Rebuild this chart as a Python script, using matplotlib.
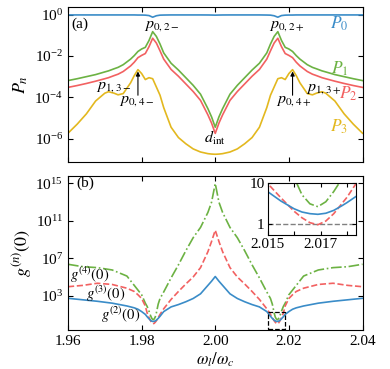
import numpy as np
import matplotlib
matplotlib.use("Agg")
import matplotlib.pyplot as plt
from matplotlib.ticker import NullLocator, FixedLocator, FixedFormatter
from matplotlib.patches import Rectangle

# ---------------- data (log10 values) ----------------
x_top = [1.960, 1.9625, 1.965, 1.9675, 1.970, 1.971, 1.9725, 1.9736, 1.975, 1.977,
         1.978, 1.979, 1.980, 1.981, 1.982, 1.983, 1.984, 1.985, 1.986, 1.988,
         1.990, 1.992, 1.994, 1.996, 1.998, 1.999, 2.000,
         2.001, 2.002, 2.004, 2.006, 2.008, 2.010, 2.012, 2.014, 2.015, 2.016,
         2.017, 2.018, 2.019, 2.020, 2.021, 2.022, 2.023, 2.025, 2.0264, 2.0275,
         2.029, 2.030, 2.0325, 2.035, 2.0375, 2.040]

log_P0 = [-0.01, -0.01, -0.01, -0.01, -0.01, -0.01, -0.01, -0.01, -0.01, -0.01,
          -0.01, -0.015, -0.015, -0.02, -0.04, -0.12, -0.05, -0.02, -0.015, -0.01,
          -0.01, -0.01, -0.01, -0.01, -0.012, -0.015, -0.02,
          -0.015, -0.012, -0.01, -0.01, -0.01, -0.01, -0.01, -0.015, -0.02, -0.05,
          -0.12, -0.04, -0.02, -0.015, -0.015, -0.01, -0.01, -0.01, -0.01, -0.01,
          -0.01, -0.01, -0.01, -0.01, -0.01, -0.01]

log_P1 = [-3.19, -3.10, -3.00, -2.90, -2.77, -2.72, -2.62, -2.55, -2.42, -2.15,
          -1.98, -1.78, -1.66, -1.58, -1.25, -0.82, -1.05, -1.42, -1.85, -2.35,
          -2.68, -3.05, -3.42, -3.85, -4.55, -4.95, -5.45,
          -4.95, -4.55, -3.85, -3.42, -3.05, -2.68, -2.35, -1.85, -1.42, -1.05,
          -0.82, -1.25, -1.58, -1.66, -1.78, -1.98, -2.15, -2.42, -2.55, -2.62,
          -2.72, -2.77, -2.90, -3.00, -3.10, -3.19]

log_P2 = [-3.52, -3.43, -3.33, -3.22, -3.10, -3.05, -2.95, -2.88, -2.75, -2.48,
          -2.30, -2.08, -1.97, -1.88, -1.55, -1.14, -1.37, -1.75, -2.15, -2.65,
          -2.98, -3.35, -3.72, -4.15, -4.85, -5.25, -5.75,
          -5.25, -4.85, -4.15, -3.72, -3.35, -2.98, -2.65, -2.15, -1.75, -1.37,
          -1.14, -1.55, -1.88, -1.97, -2.08, -2.30, -2.48, -2.75, -2.88, -2.95,
          -3.05, -3.10, -3.22, -3.33, -3.43, -3.52]

log_P3 = [-5.74, -5.30, -4.80, -4.18, -3.80, -3.73, -3.80, -3.88, -3.82, -3.30,
          -2.95, -2.66, -2.85, -3.14, -3.05, -3.10, -3.50, -3.90, -4.50, -5.45,
          -5.95, -6.25, -6.50, -6.65, -6.73, -6.75, -6.76,
          -6.75, -6.73, -6.65, -6.50, -6.25, -5.95, -5.45, -4.50, -3.90, -3.50,
          -3.10, -3.05, -3.14, -2.85, -2.66, -2.95, -3.30, -3.82, -3.88, -3.80,
          -3.73, -3.80, -4.18, -4.80, -5.30, -5.74]

x_bot = [1.960, 1.964, 1.968, 1.972, 1.976, 1.978, 1.979, 1.980, 1.981, 1.9815,
         1.982, 1.9822, 1.9825, 1.9828, 1.9831, 1.9834, 1.9837, 1.984, 1.9845, 1.985,
         1.986, 1.988, 1.990, 1.992, 1.994, 1.996, 1.998, 1.999, 2.000,
         2.001, 2.002, 2.004, 2.006, 2.008, 2.010, 2.012, 2.014, 2.015, 2.0155,
         2.016, 2.0163, 2.0166, 2.0169, 2.0172, 2.0175, 2.0178, 2.018, 2.0185, 2.019,
         2.020, 2.021, 2.022, 2.024, 2.028, 2.032, 2.036, 2.040]

log_g2 = [2.72, 2.56, 2.40, 2.20, 1.90, 1.70, 1.55, 1.30, 1.00, 0.75,
          0.53, 0.45, 0.34, 0.27, 0.244, 0.26, 0.30, 0.38, 0.57, 0.80,
          1.30, 1.80, 2.05, 2.35, 2.70, 3.20, 4.10, 4.55, 5.05,
          4.55, 4.10, 3.20, 2.70, 2.35, 2.05, 1.80, 1.30, 0.80, 0.57,
          0.38, 0.30, 0.26, 0.244, 0.27, 0.34, 0.45, 0.53, 0.75, 1.00,
          1.30, 1.55, 1.70, 1.90, 2.20, 2.40, 2.56, 2.72]

log_g3 = [3.96, 4.10, 4.33, 4.20, 3.80, 3.45, 3.10, 2.70, 1.90, 1.15,
          0.66, 0.50, 0.26, 0.08, -0.01, 0.04, 0.16, 0.32, 0.65, 1.00,
          1.60, 2.60, 3.45, 4.25, 5.00, 6.00, 7.70, 8.80, 10.00,
          8.80, 7.70, 6.00, 5.00, 4.25, 3.45, 2.60, 1.60, 1.00, 0.65,
          0.32, 0.16, 0.04, -0.01, 0.08, 0.26, 0.50, 0.66, 1.15, 1.90,
          2.70, 3.10, 3.45, 3.80, 4.20, 4.33, 4.10, 3.96]

log_g4 = [6.36, 6.10, 6.00, 5.75, 5.10, 4.10, 3.60, 3.10, 2.20, 1.85,
          1.35, 1.10, 0.80, 0.55, 0.43, 0.50, 0.72, 1.15, 2.10, 2.70,
          3.40, 4.90, 6.30, 7.80, 9.20, 10.30, 11.90, 13.00, 15.00,
          13.00, 11.90, 10.30, 9.20, 7.80, 6.30, 4.90, 3.40, 2.70, 2.10,
          1.15, 0.72, 0.50, 0.43, 0.55, 0.80, 1.10, 1.35, 1.85, 2.20,
          3.10, 3.60, 4.10, 5.10, 5.75, 6.00, 6.10, 6.36]

bottom_xticks = [1.96, 1.98, 2.00, 2.02, 2.04]
bottom_xticklabels = ["1.96", "1.98", "2.00", "2.02", "2.04"]
inset_xticks = [2.015, 2.016, 2.017, 2.018]
inset_xticklabels = ["2.015", "", "2.017", ""]

# ---------------- style ----------------
plt.rcParams.update({
    "font.family": "serif",
    "font.serif": ["Liberation Serif"],
    "mathtext.fontset": "stix",
    "font.size": 11,
    "xtick.direction": "in",
    "ytick.direction": "in",
    "xtick.top": True,
    "ytick.right": True,
    "xtick.major.size": 3.5,
    "ytick.major.size": 3.5,
    "axes.linewidth": 0.8,
})

c_blue = "#3a8cc8"
c_green = "#6cb243"
c_red = "#f26161"
c_yellow = "#e3b81f"

W, H = 390, 369
fig = plt.figure(figsize=(W / 100, H / 100), dpi=100)
ax1 = fig.add_axes([68 / W, 1 - 161.7 / H, 294.5 / W, 154.4 / H])
ax2 = fig.add_axes([68 / W, 1 - 330 / H, 294.5 / W, 154 / H])
axin = fig.add_axes([267.5 / W, 1 - 235.3 / H, 88.8 / W, 52 / H])

xt = np.array(x_top)
lw = 1.2
ax1.plot(xt, 10 ** np.array(log_P0), color=c_blue, lw=lw)
ax1.plot(xt, 10 ** np.array(log_P1), color=c_green, lw=lw)
ax1.plot(xt, 10 ** np.array(log_P2), color=c_red, lw=lw)
ax1.plot(xt, 10 ** np.array(log_P3), color=c_yellow, lw=lw)
ax1.set_yscale("log")
ax1.set_xlim(1.96, 2.04)
ax1.set_ylim(10 ** -7.12, 10 ** 0.36)
ax1.set_yticks([1, 1e-2, 1e-4, 1e-6])
ax1.yaxis.set_minor_locator(NullLocator())
ax1.set_xticks(bottom_xticks)
ax1.tick_params(labelbottom=False)
ax1.set_ylabel("$P_n$", labelpad=3, fontsize=13)

fs_p = 11.5
fs_P = 12.5
ax1.text(0.012, 0.89, "(a)", transform=ax1.transAxes, va="center", ha="left")
ax1.text(1.9855, 10 ** -0.5, r"$p_{0,2-}$", ha="center", va="center", fontsize=fs_p)
ax1.text(2.0195, 10 ** -0.5, r"$p_{0,2+}$", ha="center", va="center", fontsize=fs_p)
ax1.text(2.0337, 10 ** -0.42, r"$P_0$", color=c_blue, ha="center", va="center", fontsize=fs_P)
ax1.text(2.0337, 10 ** -2.6, r"$P_1$", color=c_green, ha="center", va="center", fontsize=fs_P)
ax1.text(2.0362, 10 ** -3.84, r"$P_2$", color=c_red, ha="center", va="center", fontsize=fs_P)
ax1.text(2.0337, 10 ** -5.42, r"$P_3$", color=c_yellow, ha="center", va="center", fontsize=fs_P)
ax1.text(1.9725, 10 ** -3.45, r"$p_{1,3-}$", ha="center", va="center", fontsize=fs_p)
ax1.text(2.0295, 10 ** -3.55, r"$p_{1,3+}$", ha="center", va="center", fontsize=fs_p)
ax1.text(1.9787, 10 ** -4.15, r"$p_{0,4-}$", ha="center", va="center", fontsize=fs_p)
ax1.text(2.0212, 10 ** -4.15, r"$p_{0,4+}$", ha="center", va="center", fontsize=fs_p)
ax1.text(2.0, 10 ** -5.95, r"$d_{\mathrm{int}}$", ha="center", va="center", fontsize=fs_p)
arrow = dict(arrowstyle="-|>", color="k", lw=0.8, mutation_scale=6,
             shrinkA=0, shrinkB=0)
ax1.annotate("", xy=(1.979, 10 ** -2.75), xytext=(1.979, 10 ** -3.9), arrowprops=arrow)
ax1.annotate("", xy=(2.021, 10 ** -2.75), xytext=(2.021, 10 ** -3.9), arrowprops=arrow)

xb = np.array(x_bot)
g2 = 10 ** np.array(log_g2)
g3 = 10 ** np.array(log_g3)
g4 = 10 ** np.array(log_g4)
for ax in (ax2, axin):
    ax.plot(xb, g4, color=c_green, lw=lw, ls="-.")
    ax.plot(xb, g3, color=c_red, lw=lw, ls="--")
    ax.plot(xb, g2, color=c_blue, lw=lw)
ax2.set_yscale("log")
ax2.set_xlim(1.96, 2.04)
ax2.set_ylim(10 ** -0.67, 10 ** 15.8)
ax2.set_yticks([1e3, 1e7, 1e11, 1e15])
ax2.yaxis.set_minor_locator(NullLocator())
ax2.set_xticks(bottom_xticks)
ax2.set_xticklabels(bottom_xticklabels)
ax2.set_ylabel("$g^{(n)}(0)$", labelpad=1, fontsize=13)
ax2.set_xlabel(r"$\omega_l/\omega_c$", labelpad=2, fontsize=12)
ax2.text(0.03, 0.955, "(b)", transform=ax2.transAxes, va="center", ha="left")
fs_g = 10.5
ax2.text(1.9605, 10 ** 5.2, r"$g^{(4)}(0)$", ha="left", va="center", fontsize=fs_g)
ax2.text(1.9650, 10 ** 3.2, r"$g^{(3)}(0)$", ha="left", va="center", fontsize=fs_g)
ax2.text(1.9691, 10 ** 0.95, r"$g^{(2)}(0)$", ha="left", va="center", fontsize=fs_g)
ax2.add_patch(Rectangle((2.0143, 10 ** -0.6), 0.0047, 10 ** 1.29 - 10 ** -0.6,
                        fill=False, ls="--", lw=0.9, ec="k", zorder=5))

axin.axhline(1, color="gray", ls="--", lw=1.0, zorder=0)
axin.set_yscale("log")
axin.set_xlim(2.015, 2.01835)
axin.set_ylim(0.54, 10)
axin.yaxis.set_major_locator(FixedLocator([1, 10]))
axin.yaxis.set_major_formatter(FixedFormatter(["1", "10"]))
axin.yaxis.set_minor_locator(NullLocator())
axin.set_xticks(inset_xticks)
axin.set_xticklabels(inset_xticklabels)
axin.tick_params(labelsize=11, length=3, pad=2)

fig.savefig("out.png", dpi=100)
